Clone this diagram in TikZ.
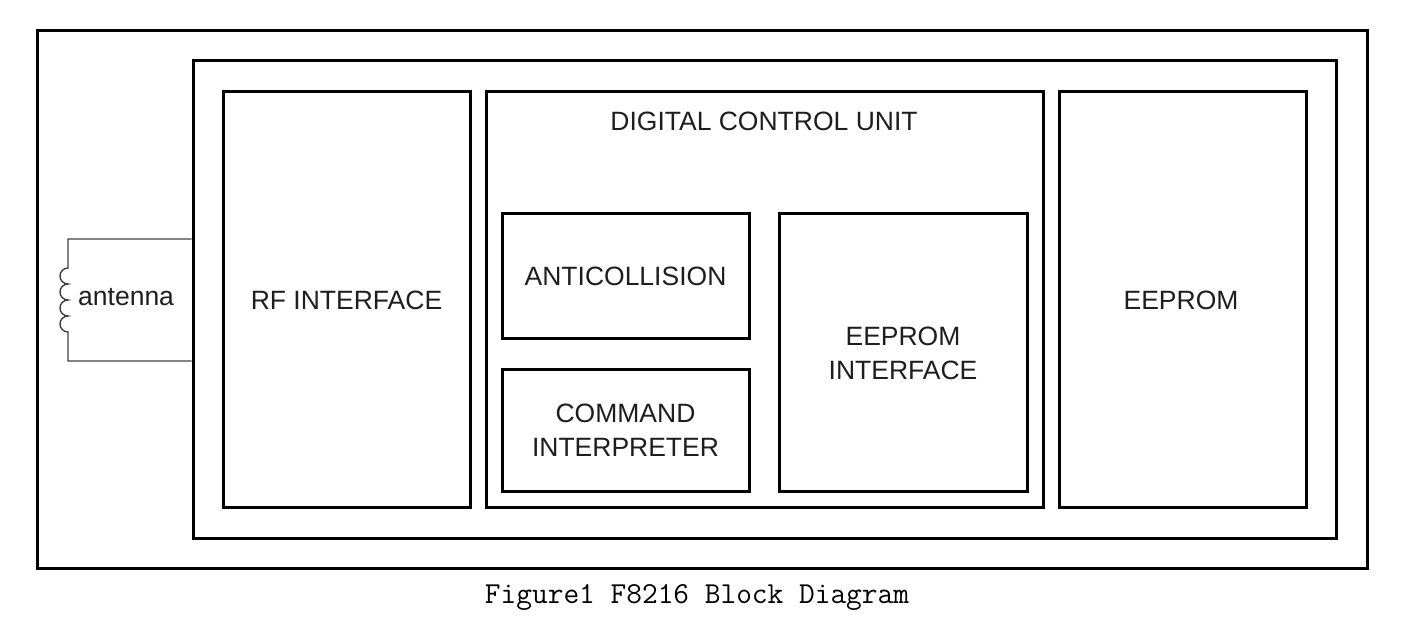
\documentclass[tikz,border=0pt]{standalone}
\usepackage{fontspec}
\setmainfont{Liberation Sans}
\usetikzlibrary{positioning}
\definecolor{txt}{HTML}{1E1E1E}
\definecolor{wire}{HTML}{404040}
\tikzset{
  blk/.style={draw=black, line width=3pt, inner sep=0pt, minimum width=#1},
  lbl/.style={font=\fontsize{26.5}{34}\selectfont, text=txt, align=center, inner sep=0pt},
  wireline/.style={draw=wire, line width=1.4pt},
}
\begin{document}
\begin{tikzpicture}[x=1pt,y=-1pt]
\useasboundingbox (0,0) rectangle (1404,630);
% outer frame
\node[blk=1330pt, minimum height=538pt] (outer) at (702,299) {};
\node[blk=1143pt, minimum height=478pt] (inner) at (764.5,299) {};
% blocks
\node[blk=247pt, minimum height=416pt] (rf) at (346.5,299) {};
\node[lbl] (rft) at (346.5,300) {RF INTERFACE};
\node[blk=557pt, minimum height=416pt] (dcu) at (764.5,299) {};
\node[lbl] (dcut) at (764,121) {DIGITAL CONTROL UNIT};
\node[blk=247pt, minimum height=416pt] (ee) at (1182.5,299) {};
\node[lbl] (eet) at (1181,300) {EEPROM};
\node[blk=247pt, minimum height=125pt] (anti) at (625.5,275.5) {};
\node[lbl] (antit) at (625.5,276) {ANTICOLLISION};
\node[blk=247pt, minimum height=122pt] (cmd) at (625.5,430) {};
\node[lbl] (cmdt) at (625.5,430) {COMMAND\\INTERPRETER};
\node[blk=248pt, minimum height=278pt] (eei) at (903,352) {};
\node[lbl] (eeit) at (903,353) {EEPROM\\INTERFACE};
% antenna
\coordinate (a1) at (68,239);
\coordinate (c1) at (68,268);
\coordinate (c2) at (68,332);
\coordinate (a2) at (68,361);
\draw[wireline] (inner.west |- a1) -- (a1) -- (c1)
  arc[start angle=270, end angle=90, radius=8]
  arc[start angle=270, end angle=90, radius=8]
  arc[start angle=270, end angle=90, radius=8]
  arc[start angle=270, end angle=90, radius=8]
  -- (a2) -- (inner.west |- a2);
\node[lbl, anchor=west] (ant) at (78,297) {antenna};
% caption
\node[font=\fontsize{30.5}{36}\ttfamily, inner sep=0pt, text=black] (cap) at (697,597) {Figure1 F8216 Block Diagram};
\end{tikzpicture}
\end{document}
